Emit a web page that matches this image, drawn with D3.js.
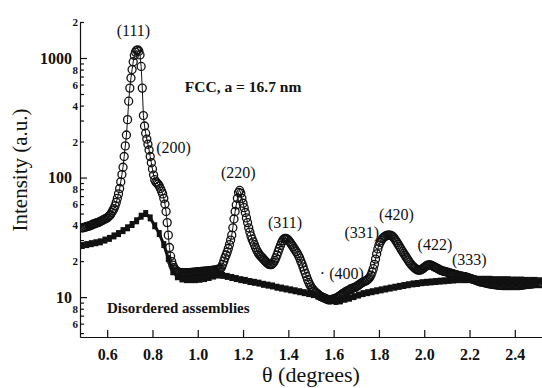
<!DOCTYPE html>
<html>
<head>
<meta charset="utf-8">
<script src="https://cdnjs.cloudflare.com/ajax/libs/d3/7.8.5/d3.min.js"></script>
<style>
  body { margin: 0; background: #fff; }
  svg, svg text { font-family: 'Liberation Serif', 'Times New Roman', 'DejaVu Serif', serif; }
</style>
</head>
<body>
<div id="chart"></div>
<script>
// FCC superlattice pattern, sampled every 0.005 deg from 0.49
const fccStart = 0.49;
const fccStep = 0.005;
const fccIntensity = [
  38, 38, 38.5, 38.5, 39, 39, 39.5, 39.5, 40, 40.5,
  41, 41, 41.5, 42, 42, 42.5, 43, 43.5, 44, 44.5,
  45, 45.5, 46, 47, 48, 49, 51, 53, 55, 58,
  62, 67, 73, 81, 92, 106, 122, 150, 184, 227,
  305, 435, 560, 680, 800, 930, 1050, 1120, 1160, 1170,
  1140, 1060, 850, 560, 330, 270, 235, 210, 190, 170,
  150, 133, 118, 105, 96, 92, 90, 88, 85, 81,
  77, 73, 67, 60, 52, 42, 33, 26, 22, 19.8,
  18.5, 17.6, 17, 16.6, 16.3, 16.2, 16.1, 16, 16, 16,
  16, 16, 16, 16, 16, 16, 16.1, 16.1, 16.1, 16.2,
  16.2, 16.2, 16.3, 16.3, 16.3, 16.4, 16.4, 16.4, 16.5, 16.5,
  16.5, 16.6, 16.6, 16.6, 16.7, 16.7, 16.8, 16.8, 16.9, 17,
  17.1, 17.2, 17.3, 17.8, 18.8, 20, 21.3, 22.5, 23.8, 25.5,
  27.5, 30, 33, 38, 45, 52, 59, 67, 75, 78,
  74, 67, 61, 56, 51, 46, 42, 38, 35, 32.5,
  30.5, 29, 27.5, 26, 24.8, 23.8, 23, 22.3, 21.8, 21.3,
  20.8, 20.3, 19.8, 19.4, 19, 18.8, 18.7, 18.7, 19, 19.5,
  20.3, 21.3, 22.5, 24, 25.5, 27, 28.5, 29.7, 30.6, 31,
  31, 30.6, 30, 29.2, 28.3, 27.4, 26.5, 25.6, 24.8, 24,
  23.2, 22.2, 21.2, 20, 19, 17.9, 16.8, 15.8, 14.9, 14,
  13.3, 12.7, 12.2, 11.8, 11.5, 11.2, 11, 10.8, 10.6, 10.4,
  10.2, 10.1, 10, 9.9, 9.8, 9.7, 9.6, 9.5, 9.5, 9.5,
  9.5, 9.6, 9.6, 9.7, 9.8, 9.9, 10, 10.2, 10.3, 10.5,
  10.7, 10.8, 11, 11.1, 11.3, 11.4, 11.5, 11.7, 11.8, 11.9,
  12, 12.1, 12.2, 12.4, 12.6, 12.8, 13, 13.2, 13.4, 13.5,
  13.6, 13.8, 14, 14.3, 14.7, 15.3, 16.2, 17.3, 18.8, 20.8,
  23, 25.3, 27.2, 28.7, 29.8, 30.8, 31.5, 32, 32.5, 32.8,
  33, 33, 33, 32.7, 32.2, 31.5, 30.6, 29.6, 28.6, 27.6,
  26.6, 25.7, 24.8, 24, 23.2, 22.4, 21.6, 20.9, 20.2, 19.6,
  19, 18.5, 18.1, 17.7, 17.4, 17.1, 16.9, 16.8, 16.8, 16.9,
  17.1, 17.4, 17.7, 18, 18.3, 18.5, 18.6, 18.6, 18.5, 18.3,
  18.1, 17.9, 17.7, 17.5, 17.3, 17.1, 16.9, 16.7, 16.6, 16.5,
  16.4, 16.3, 16.2, 16.1, 16, 15.9, 15.8, 15.7, 15.6, 15.5,
  15.4, 15.3, 15.2, 15.1, 15, 14.95, 14.9, 14.85, 14.8, 14.7,
  14.6, 14.5, 14.4, 14.3, 14.2, 14.1, 14, 13.9, 13.8, 13.7,
  13.55, 13.45, 13.4, 13.35, 13.3, 13.2, 13.15, 13.1, 13, 12.95,
  12.9, 12.85, 12.8, 12.75, 12.7, 12.7, 12.65, 12.6, 12.6, 12.55,
  12.55, 12.5, 12.5, 12.5, 12.5, 12.5, 12.5, 12.5, 12.5, 12.5,
  12.5, 12.5, 12.5, 12.5, 12.5, 12.5, 12.5, 12.6, 12.6, 12.6,
  12.7, 12.7, 12.7, 12.8, 12.8, 12.8, 12.9, 12.9, 12.9, 13,
  13, 13, 13, 13, 13, 13, 13
];

// disordered assemblies, sampled every 0.02 deg from 0.49
const disStart = 0.49;
const disStep = 0.02;
const disIntensity = [
  27, 27.5, 28, 28.5, 29, 30, 31, 32.5, 34, 36,
  38, 40.5, 43.5, 47.5, 50, 46, 39.5, 34, 27.5, 21,
  16.3, 14.8, 14.2, 14, 14, 14, 14.1, 14.3, 14.6, 15,
  15.3, 15.2, 14.9, 14.6, 14.3, 14, 13.8, 13.5, 13.3, 13.1,
  12.8, 12.6, 12.4, 12.1, 11.9, 11.7, 11.5, 11.3, 11.1, 10.9,
  10.7, 10.5, 10.2, 10, 9.7, 9.4, 9.2, 9.3, 9.6, 9.8,
  10.1, 10.4, 10.7, 10.9, 11.1, 11.3, 11.5, 11.7, 11.9, 12.1,
  12.3, 12.5, 12.7, 12.9, 13, 13.2, 13.3, 13.4, 13.5, 13.6,
  13.7, 13.8, 13.9, 14, 14, 14, 14.1, 14.1, 14.1, 14.1,
  14.1, 14, 14, 14, 14, 13.9, 13.9, 13.9, 13.8, 13.8,
  13.8, 13.7
];

const xTicks = [0.6, 0.8, 1.0, 1.2, 1.4, 1.6, 1.8, 2.0, 2.2, 2.4];
const yMajorTicks = [10, 100, 1000];
const yMinorTicks = [5, 6, 7, 8, 9, 20, 30, 40, 50, 60, 70, 80, 90,
  200, 300, 400, 500, 600, 700, 800, 900, 2000];
const yMinorLabelled = [2, 4, 6, 8];

// reflection labels and where their text sits (theta, intensity)
const peakText = ['(111)', '(200)', '(220)', '(311)', '(331)', '\u00b7 (400)', '(420)', '(422)', '(333)'];
const peakTheta = [0.716, 0.893, 1.179, 1.385, 1.724, 1.539, 1.877, 2.047, 2.199];
const peakValue = [1535, 159, 98.7, 37.8, 31.2, 14.2, 44.1, 24.8, 18.6];

const serif = "'Liberation Serif', 'Times New Roman', 'DejaVu Serif', serif";
const ink = '#111';

const margin = { top: 22, right: 0, bottom: 51, left: 80 };
const W = 542, H = 388;
const width = W - margin.left - margin.right;
const height = H - margin.top - margin.bottom;

const svg = d3.select('#chart')
  .append('svg')
  .attr('width', W)
  .attr('height', H)
  .attr('font-family', serif);

const g = svg.append('g')
  .attr('transform', `translate(${margin.left},${margin.top})`);

const x = d3.scaleLinear().domain([0.48, 2.52]).range([0, width]);
const y = d3.scaleLog().domain([4.64, 2000]).range([height, 0]);

const fcc = fccIntensity.map((v, i) => ({ t: fccStart + i * fccStep, v }));
const dis = disIntensity.map((v, i) => ({ t: disStart + i * disStep, v }));

g.append('clipPath').attr('id', 'plot')
  .append('rect').attr('width', width).attr('height', height);

const plot = g.append('g').attr('clip-path', 'url(#plot)');
const line = d3.line().x(d => x(d.t)).y(d => y(d.v));

// open circles (FCC)
plot.append('path')
  .datum(fcc)
  .attr('d', line)
  .attr('fill', 'none')
  .attr('stroke', ink)
  .attr('stroke-width', 1);
plot.append('g')
  .selectAll('circle')
  .data(fcc)
  .enter()
  .append('circle')
  .attr('cx', d => x(d.t))
  .attr('cy', d => y(d.v))
  .attr('r', 4)
  .attr('fill', 'none')
  .attr('stroke', ink)
  .attr('stroke-width', 1.3);

// filled squares (disordered)
plot.append('path')
  .datum(dis)
  .attr('d', line)
  .attr('fill', 'none')
  .attr('stroke', ink)
  .attr('stroke-width', 3);
plot.append('g')
  .selectAll('rect')
  .data(dis)
  .enter()
  .append('rect')
  .attr('x', d => x(d.t) - 2.5)
  .attr('y', d => y(d.v) - 3.5)
  .attr('width', 5)
  .attr('height', 7)
  .attr('fill', ink);

// axes, ticks pointing inward
const xAxis = g.append('g')
  .attr('transform', `translate(0,${height})`)
  .call(d3.axisBottom(x).tickValues(xTicks).tickSize(-7).tickSizeOuter(0)
    .tickPadding(12).tickFormat(d3.format('.1f')));

const yMinor = g.append('g')
  .call(d3.axisLeft(y).tickValues(yMinorTicks).tickSize(-4).tickSizeOuter(0)
    .tickPadding(2)
    .tickFormat(d => {
      const m = Math.round(d / Math.pow(10, Math.floor(Math.log10(d))));
      return yMinorLabelled.includes(m) ? m : '';
    }));

const yMajor = g.append('g')
  .call(d3.axisLeft(y).tickValues(yMajorTicks).tickSize(-7).tickSizeOuter(0)
    .tickPadding(8).tickFormat(d3.format('d')));
yMajor.select('.domain').remove();

// d3 axes set their own sans-serif font, put the serif back
[xAxis, yMinor, yMajor].forEach(a => a.attr('font-family', serif));
xAxis.selectAll('text').attr('font-size', 16).attr('font-weight', 'bold').attr('fill', ink);
yMinor.selectAll('text').attr('font-size', 11).attr('font-weight', 'bold').attr('fill', ink);
yMajor.selectAll('text').attr('font-size', 16).attr('font-weight', 'bold').attr('fill', ink);
g.selectAll('.domain, .tick line').attr('stroke', ink).attr('stroke-width', 1.2);

// annotations
g.append('g')
  .selectAll('text')
  .data(peakText)
  .enter()
  .append('text')
  .attr('x', (d, i) => x(peakTheta[i]))
  .attr('y', (d, i) => y(peakValue[i]))
  .attr('text-anchor', d => d.startsWith('\u00b7') ? 'start' : 'middle')
  .attr('font-size', 16)
  .attr('fill', ink)
  .text(d => d);

g.append('text')
  .attr('x', x(0.943))
  .attr('y', y(524))
  .attr('font-size', 15.5)
  .attr('font-weight', 'bold')
  .attr('fill', ink)
  .text('FCC, a = 16.7 nm');

g.append('text')
  .attr('x', x(0.599))
  .attr('y', y(7.4))
  .attr('font-size', 15)
  .attr('font-weight', 'bold')
  .attr('fill', ink)
  .text('Disordered assemblies');

// axis titles
svg.append('text')
  .attr('transform', 'translate(27,170) rotate(-90)')
  .attr('text-anchor', 'middle')
  .attr('font-size', 21)
  .attr('fill', ink)
  .text('Intensity (a.u.)');

svg.append('text')
  .attr('x', 311)
  .attr('y', 382)
  .attr('text-anchor', 'middle')
  .attr('font-size', 22)
  .attr('fill', ink)
  .text('\u03b8 (degrees)');
</script>
</body>
</html>
